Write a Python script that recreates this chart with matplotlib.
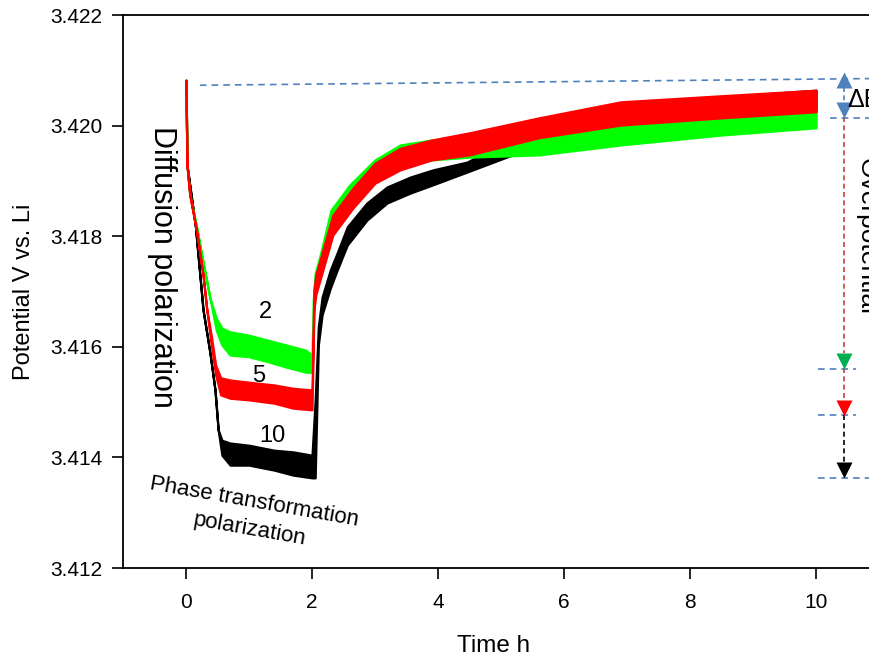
import matplotlib
matplotlib.use("Agg")
import matplotlib.pyplot as plt
from matplotlib import font_manager

# --- data (envelope of the noisy traces) ---
t_green = [0, 0.015, 0.06, 0.17, 0.27, 0.38, 0.48, 0.57, 0.7, 1.0, 1.3, 1.6, 1.9, 2.0,
           2.02, 2.05, 2.13, 2.3, 2.6, 3.0, 3.4, 3.9, 4.5, 5.6, 6.9, 8.5, 10.0]
hi_green = [3.42082, 3.41929, 3.41875, 3.41815, 3.41753, 3.41688, 3.41652, 3.41634, 3.41627,
            3.41621, 3.41612, 3.41603, 3.41594, 3.41585, 3.41685, 3.41733, 3.41766, 3.41847,
            3.41893, 3.41938, 3.41965, 3.41974, 3.41979, 3.41987, 3.42007, 3.42019, 3.42028]
lo_green = [3.42082, 3.41929, 3.41875, 3.41815, 3.41753, 3.41688, 3.41630, 3.41603, 3.41585,
            3.41582, 3.41573, 3.41563, 3.41554, 3.41554, 3.41630, 3.41703, 3.41739, 3.41811,
            3.41856, 3.41902, 3.41929, 3.41938, 3.41943, 3.41947, 3.41965, 3.41983, 3.41996]

t_red = [0, 0.015, 0.06, 0.17, 0.27, 0.33, 0.40, 0.47, 0.55, 0.7, 1.0, 1.4, 1.7, 2.0,
         2.03, 2.06, 2.15, 2.33, 2.65, 3.0, 3.4, 3.9, 4.5, 5.6, 6.9, 8.5, 10.0]
hi_red = [3.42082, 3.41929, 3.41875, 3.41808, 3.41730, 3.41667, 3.41621, 3.41567, 3.41544,
          3.41540, 3.41536, 3.41531, 3.41525, 3.41522, 3.41703, 3.41730, 3.41766, 3.41838,
          3.41887, 3.41932, 3.41959, 3.41974, 3.41987, 3.42014, 3.42043, 3.42054, 3.42064]
lo_red = [3.42082, 3.41929, 3.41875, 3.41808, 3.41730, 3.41667, 3.41603, 3.41549, 3.41513,
          3.41507, 3.41504, 3.41498, 3.41489, 3.41486, 3.41667, 3.41694, 3.41730, 3.41802,
          3.41851, 3.41896, 3.41920, 3.41938, 3.41947, 3.41978, 3.42001, 3.42014, 3.42025]

t_black = [0, 0.015, 0.15, 0.27, 0.38, 0.46, 0.51, 0.57, 0.7, 1.0, 1.4, 1.7, 2.0, 2.05,
           2.1, 2.16, 2.29, 2.4, 2.56, 2.87, 3.19, 3.56, 3.92, 4.46, 5.6, 6.9, 8.5, 10.0]
hi_black = [3.42082, 3.41929, 3.41817, 3.41667, 3.41589, 3.41522, 3.41450, 3.41431, 3.41426,
            3.41422, 3.41413, 3.41410, 3.41404, 3.41504, 3.41636, 3.41690, 3.41739, 3.41770,
            3.41817, 3.41860, 3.41889, 3.41907, 3.41920, 3.41934, 3.42001, 3.42032, 3.42052,
            3.42064]
lo_black = [3.42082, 3.41929, 3.41817, 3.41667, 3.41589, 3.41522, 3.41450, 3.41404, 3.41386,
            3.41386, 3.41377, 3.41368, 3.41363, 3.41363, 3.41603, 3.41658, 3.41706, 3.41739,
            3.41784, 3.41829, 3.41860, 3.41878, 3.41893, 3.41916, 3.41965, 3.41996, 3.42014,
            3.42025]

curve_labels = ["2", "5", "10"]
x_ticks = [0, 2, 4, 6, 8, 10]
y_ticks = [3.412, 3.414, 3.416, 3.418, 3.420, 3.422]

# overpotential levels marked on the right
ref_level = [3.42073, 3.42085]
dE_level = 3.42013
end_levels = [3.41560, 3.41477, 3.41363]

BLUE = "#4F81BD"
RED_DASH = "#C8403A"

names = {f.name for f in font_manager.fontManager.ttflist}
narrow = "Liberation Sans Narrow" in names
NARROW = "Liberation Sans Narrow" if narrow else "Liberation Sans"
plt.rcParams["font.family"] = ["Liberation Sans", "DejaVu Sans"]

fig = plt.figure(figsize=(8.69, 6.59), dpi=100)
ax = fig.add_axes([123 / 869, 91 / 659, 1 - 123 / 869, 553 / 659])

for t, lo, hi, c in [(t_black, lo_black, hi_black, "black"),
                     (t_green, lo_green, hi_green, "#00FF00"),
                     (t_red, lo_red, hi_red, "#FF0000")]:
    ax.fill_between(t, lo, hi, color=c, lw=1.6)

ax.set_xlim(-1.0, 10.84)
ax.set_ylim(3.412, 3.422)
ax.set_xticks(x_ticks)
ax.set_yticks(y_ticks)
ax.set_yticklabels([f"{v:.3f}" for v in y_ticks])
ax.spines["right"].set_visible(False)
for s in ["left", "bottom", "top"]:
    ax.spines[s].set_linewidth(1.3)
ax.tick_params(axis="y", length=8, width=1.2, pad=7, labelsize=15)
ax.tick_params(axis="x", length=8, width=1.2, pad=10, labelsize=15)

fig.text(24 / 869, 1 - 292 / 659, "Potential V vs. Li", rotation=90,
         ha="center", va="center", fontsize=17)
fig.text(494 / 869, 1 - 646 / 659, "Time h", ha="center", va="center", fontsize=17.5)

# annotation marks on the right
ax.plot([0.22, 10.84], ref_level, ls=(0, (4, 3)), color=BLUE, lw=1.2, clip_on=False)
ax.plot([10.22, 10.84], [dE_level, dE_level], ls=(0, (4, 3)), color=BLUE, lw=1.2, clip_on=False)
ax.plot([10.03, 10.63], [end_levels[0]] * 2, ls=(0, (4, 3)), color=BLUE, lw=1.2)
ax.plot([10.03, 10.63], [end_levels[1]] * 2, ls=(0, (4, 3)), color=BLUE, lw=1.2)
ax.plot([10.03, 10.84], [end_levels[2]] * 2, ls=(0, (4, 3)), color=BLUE, lw=1.2, clip_on=False)

xa = 10.44
ax.plot([xa, xa], [3.42070, 3.42043], ls=(0, (3, 2)), color=BLUE, lw=1.2)
ax.plot([xa, xa], [3.42016, 3.41589], ls=(0, (3, 2)), color=RED_DASH, lw=1.2)
ax.plot([xa, xa], [3.41562, 3.41504], ls=(0, (3, 2)), color=RED_DASH, lw=1.2)
ax.plot([xa, xa], [3.41477, 3.41392], ls=(0, (3, 2)), color="black", lw=1.2)
ax.plot(xa, 3.42083, marker="^", ms=11, color=BLUE, mec="none")
ax.plot(xa, 3.42029, marker="v", ms=11, color=BLUE, mec="none")
ax.plot(xa, 3.41575, marker="v", ms=11, color="#00B050", mec="none")
ax.plot(xa, 3.41490, marker="v", ms=11, color="#FF0000", mec="none")
ax.plot(xa, 3.41378, marker="v", ms=11, color="black", mec="none")

ax.text(10.49, 3.42046, "\u0394E", ha="left", va="center", fontsize=18, family=NARROW)
ax.text(10.81, 3.41799, "Overpotential", rotation=-90, ha="center", va="center", fontsize=19)
ax.text(-0.38, 3.41744, "Diffusion polarization", rotation=-90,
        ha="center", va="center", fontsize=22)
ax.text(1.04, 3.41295, "Phase transformation\npolarization", rotation=-10,
        ha="center", va="center", multialignment="center", linespacing=1.45,
        fontsize=20 if narrow else 16, family=NARROW, rotation_mode="anchor")

lab_size = 22 if narrow else 17
ax.text(1.254, 3.41663, curve_labels[0], ha="center", va="center", fontsize=lab_size, family=NARROW)
ax.text(1.159, 3.41547, curve_labels[1], ha="center", va="center", fontsize=lab_size, family=NARROW)
ax.text(1.365, 3.41439, curve_labels[2], ha="center", va="center", fontsize=lab_size, family=NARROW)

fig.savefig("out.png", dpi=100)
